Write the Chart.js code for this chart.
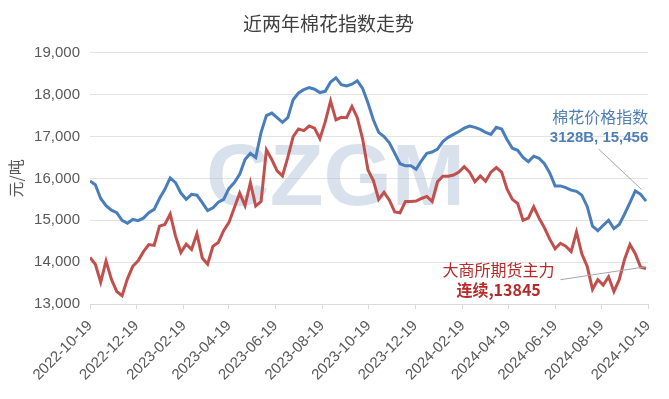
<!DOCTYPE html>
<html>
<head>
<meta charset="utf-8">
<script src="https://cdn.jsdelivr.net/npm/chart.js@4/dist/chart.umd.min.js"></script>
<style>
  html, body { margin: 0; padding: 0; background: #fff; }
  #wrap { width: 669px; height: 399px; }
</style>
</head>
<body>
<div id="wrap"><canvas id="chart"></canvas></div>
<script>
// tick labels on the date axis (every two months)
const tickDates = ['2022-10-19', '2022-12-19', '2023-02-19', '2023-04-19', '2023-06-19',
  '2023-08-19', '2023-10-19', '2023-12-19', '2024-02-19', '2024-04-19', '2024-06-19',
  '2024-08-19', '2024-10-19'];

// weekly readings, first one on 2022-10-19
const dataStart = '2022-10-19';
const stepDays = 7;

// 棉花价格指数 3128B (元/吨)
const cottonIndex = [
  15940, 15850, 15520, 15350, 15240, 15180, 15000, 14930, 15020, 14990,
  15050, 15180, 15260, 15520, 15740, 16010, 15900, 15650, 15500, 15620,
  15600, 15420, 15230, 15300, 15430, 15500, 15760, 15900, 16100, 16450,
  16600, 16500, 17100, 17500, 17560, 17450, 17340, 17450, 17880, 18040,
  18120, 18170, 18130, 18050, 18080, 18300, 18400, 18240, 18210, 18250,
  18330, 18150, 17800, 17400, 17100, 17000, 16850, 16600, 16350, 16300,
  16300, 16220, 16420, 16600, 16630, 16700, 16880, 16980, 17050, 17120,
  17200, 17250, 17220, 17170, 17100, 17050, 17220, 17180, 16930, 16720,
  16670, 16500, 16400, 16530, 16480, 16350, 16130, 15820, 15820, 15780,
  15720, 15690, 15600, 15330, 14860, 14750, 14880, 15000, 14800, 14900,
  15150, 15420, 15700, 15620, 15456
];

// 大商所期货主力连续 (元/吨)
const futuresMain = [
  14110, 13950, 13520, 14030, 13590, 13300, 13200, 13600, 13900, 14030,
  14250, 14420, 14400, 14860, 14900, 15150, 14620, 14230, 14430, 14300,
  14680, 14100, 13950, 14380, 14470, 14750, 14950, 15300, 15650, 15350,
  15900, 15340, 15450, 16680, 16450, 16180, 16060, 16500, 17000, 17180,
  17140, 17250, 17200, 16950, 17350, 17850, 17400, 17460, 17450, 17720,
  17450, 16940, 16200, 15950, 15500, 15670, 15480, 15200, 15180, 15450,
  15450, 15460, 15520, 15570, 15450, 15920, 16050, 16050, 16080, 16150,
  16280, 16150, 15920, 16060, 15930, 16150, 16260, 16150, 15750, 15500,
  15400, 15000, 15050, 15320, 15050, 14820, 14550, 14320, 14450, 14380,
  14250, 14720, 14200, 13900, 13350, 13580, 13450, 13650, 13300, 13580,
  14070, 14420, 14200, 13880, 13845
];

const blueLabel = ['棉花价格指数', '3128B, 15,456'];
const redLabel = ['大商所期货主力', '连续,13845'];

const dayOf = s => (Date.parse(s) - Date.parse(dataStart)) / 86400000;
const toPoints = arr => arr.map((v, i) => ({ x: i * stepDays, y: v }));
const fmt = n => String(n).replace(/\B(?=(\d{3})+(?!\d))/g, ',');

const tickColor = '#595959';

// big faint watermark behind the lines
const watermark = {
  id: 'watermark',
  beforeDatasetsDraw(chart) {
    const { ctx, chartArea: a } = chart;
    ctx.save();
    ctx.font = 'bold 88px "Liberation Sans", Arial, sans-serif';
    ctx.fillStyle = 'rgba(170, 188, 212, 0.45)';
    ctx.textAlign = 'center';
    ctx.textBaseline = 'middle';
    ctx.fillText('CZGM', a.left + a.width * 0.44, a.top + a.height * 0.51);
    ctx.restore();
  }
};

// end-of-line callouts with leader lines
const callouts = {
  id: 'callouts',
  afterDatasetsDraw(chart) {
    const { ctx, chartArea: a } = chart;
    const xs = chart.scales.x, ys = chart.scales.y;
    const px = d => xs.getPixelForValue(d), py = v => ys.getPixelForValue(v);
    ctx.save();
    ctx.strokeStyle = '#a6a6a6';
    ctx.lineWidth = 1;
    ctx.beginPath();
    ctx.moveTo(px(666), py(16700));
    ctx.lineTo(px(722), py(15740));
    ctx.moveTo(px(616), py(13580));
    ctx.lineTo(px(728), py(13890));
    ctx.stroke();

    ctx.textBaseline = 'middle';
    ctx.textAlign = 'right';
    ctx.fillStyle = '#4f7fb5';
    ctx.font = '16px "Noto Sans CJK SC", sans-serif';
    ctx.fillText(blueLabel[0], a.right, py(17470));
    ctx.font = 'bold 15px "Liberation Sans", "Noto Sans CJK SC", sans-serif';
    ctx.fillText(blueLabel[1], a.right, py(16960));

    ctx.textAlign = 'center';
    ctx.fillStyle = '#b52a2a';
    ctx.font = '16px "Noto Sans CJK SC", sans-serif';
    ctx.fillText(redLabel[0], px(535), py(13820));
    ctx.font = 'bold 16px "Noto Sans CJK SC", sans-serif';
    ctx.fillText(redLabel[1], px(535), py(13340));
    ctx.restore();
  }
};

new Chart(document.getElementById('chart'), {
  type: 'line',
  data: {
    datasets: [
      {
        label: '棉花价格指数3128B',
        data: toPoints(cottonIndex),
        borderColor: '#4a7ebb',
        borderWidth: 3,
        pointRadius: 0,
        tension: 0
      },
      {
        label: '大商所期货主力连续',
        data: toPoints(futuresMain),
        borderColor: '#c0504d',
        borderWidth: 3,
        pointRadius: 0,
        tension: 0
      }
    ]
  },
  options: {
    responsive: true,
    maintainAspectRatio: false,
    animation: false,
    layout: { padding: { top: 0, right: 12, bottom: 0, left: 0 } },
    plugins: {
      legend: { display: false },
      tooltip: { enabled: false },
      title: {
        display: true,
        text: '近两年棉花指数走势',
        color: '#404040',
        font: { family: '"Noto Sans CJK SC", sans-serif', size: 19, weight: 'normal' },
        padding: { top: 12, bottom: 18 }
      }
    },
    scales: {
      x: {
        type: 'linear',
        min: 0,
        max: dayOf(tickDates[tickDates.length - 1]),
        afterBuildTicks: scale => {
          scale.ticks = tickDates.map(d => ({ value: dayOf(d) }));
        },
        afterFit: scale => { scale.height = 95; },
        ticks: {
          autoSkip: false,
          minRotation: 45,
          maxRotation: 45,
          padding: 8,
          color: tickColor,
          font: { family: '"Liberation Sans", sans-serif', size: 15 },
          callback: v => tickDates.find(d => dayOf(d) === v) || ''
        },
        grid: { drawOnChartArea: false, color: '#d9d9d9', tickLength: 5 },
        border: { color: '#d9d9d9' }
      },
      y: {
        min: 13000,
        max: 19000,
        afterFit: scale => { scale.width = 90; },
        ticks: {
          stepSize: 1000,
          color: tickColor,
          padding: 10,
          font: { family: '"Liberation Sans", sans-serif', size: 15 },
          callback: v => fmt(v)
        },
        grid: { color: '#e3e3e3', drawTicks: false },
        border: { display: false },
        title: {
          display: true,
          text: '元/吨',
          color: tickColor,
          font: { family: '"Noto Sans CJK SC", sans-serif', size: 16 },
          padding: { top: 6, bottom: 0 }
        }
      }
    }
  },
  plugins: [watermark, callouts]
});
</script>
</body>
</html>
